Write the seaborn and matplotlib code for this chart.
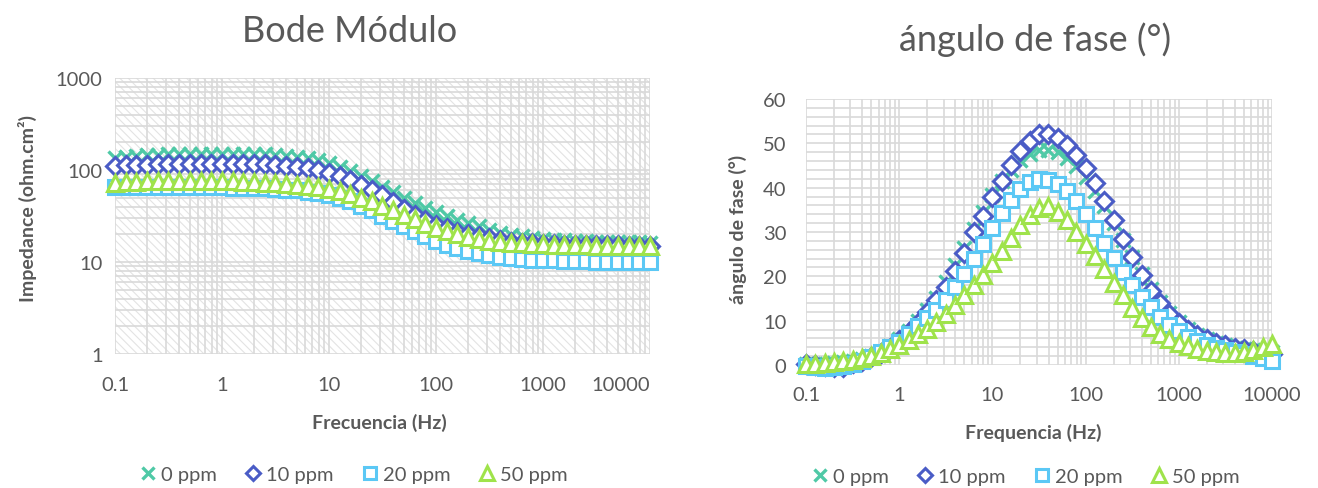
import numpy as np
import pandas as pd
import matplotlib
matplotlib.use("Agg")
import matplotlib.pyplot as plt
import seaborn as sns
from matplotlib.patches import Rectangle
from matplotlib.ticker import FixedLocator, FixedFormatter, LogLocator, MultipleLocator, NullFormatter

# ---------------- data ----------------
freq = [0.1, 0.1259, 0.1585, 0.1995, 0.2512, 0.3162, 0.3981, 0.5012, 0.631, 0.7943,
        1.0, 1.259, 1.585, 1.995, 2.512, 3.162, 3.981, 5.012, 6.31, 7.943,
        10.0, 12.59, 15.85, 19.95, 25.12, 31.62, 39.81, 50.12, 63.1, 79.43,
        100.0, 125.9, 158.5, 199.5, 251.2, 316.2, 398.1, 501.2, 631.0, 794.3,
        1000.0, 1259, 1585, 1995, 2512, 3162, 3981, 5012, 6310, 7943, 10000]

z_0ppm = [135, 139, 142, 144, 146, 148, 149, 150, 151, 151,
          151, 151, 150, 149, 148, 146, 143, 139, 134, 127,
          119, 109, 98, 87, 76, 66, 57, 50, 44, 39,
          35, 31.5, 28.5, 26.3, 24.5, 22, 20.8, 19.8, 19.0, 18.4,
          17.9, 17.5, 17.2, 17.0, 16.8, 16.6, 16.5, 16.4, 16.3, 16.3, 16.2]
z_10ppm = [110, 112, 113, 114, 115, 116, 116, 117, 117, 117,
           117, 117, 116, 116, 115, 113, 111, 108, 104, 99,
           93, 86, 78, 69, 61, 53, 45, 38, 32.5, 28.5,
           25.5, 23.2, 21.4, 20.0, 19.0, 18.2, 17.2, 16.6, 16.2, 15.9,
           15.7, 15.5, 15.4, 15.3, 15.3, 15.2, 15.2, 15.2, 15.1, 15.1, 15.1]
z_20ppm = [66, 66, 66, 66, 66, 66, 65.5, 65.5, 65, 65,
           65, 64.5, 64, 63.5, 63, 62, 61, 60, 58, 56,
           53, 49.5, 45.5, 41, 36.5, 32, 28, 24.5, 21.5, 19,
           17, 15.4, 14.1, 13.1, 12.4, 11.8, 11.4, 11.1, 10.8, 10.6,
           10.5, 10.4, 10.3, 10.2, 10.2, 10.1, 10.1, 10.1, 10.0, 10.0, 10.0]
z_50ppm = [73, 74, 74, 75, 75, 75, 75, 75, 75, 75,
           75, 75, 74.5, 74, 73, 72, 71, 69.5, 67.5, 65,
           62, 58.5, 54.5, 50, 45.5, 41, 36.5, 32.5, 29, 26,
           23.5, 21.5, 20, 18.8, 17.8, 17.1, 16.6, 16.2, 15.9, 15.7,
           15.5, 15.4, 15.3, 15.2, 15.2, 15.1, 15.1, 15.1, 15.0, 15.0, 15.0]

ph_0ppm = [0.3, 0.3, 0.3, 0.4, 0.6, 0.9, 1.4, 2.1, 3.0, 4.2,
           5.8, 7.7, 9.9, 12.4, 15.2, 18.8, 22.5, 26.5, 30.6, 34.6,
           38.3, 41.5, 44.0, 46.2, 47.7, 48.5, 48.6, 48.0, 46.7, 44.8,
           42.3, 39.3, 35.9, 32.1, 28.2, 24.3, 20.5, 17.1, 14.2, 11.7,
           9.7, 8.1, 6.8, 5.8, 5.0, 4.4, 3.9, 3.6, 3.3, 3.1, 3.0]
ph_10ppm = [0.2, 0.0, -0.3, -0.5, -0.4, 0.4, 1.0, 1.8, 2.8, 3.9,
            5.6, 7.4, 9.5, 11.9, 14.6, 17.5, 21.3, 25.2, 30.0, 33.7,
            37.9, 41.6, 45.2, 48.3, 50.6, 52.0, 52.2, 51.2, 49.6, 47.3,
            44.4, 41.0, 37.1, 32.7, 28.5, 24.3, 20.3, 16.8, 13.9, 11.5,
            9.5, 8.0, 6.7, 5.8, 5.0, 4.4, 3.9, 3.5, 3.1, 2.8, 2.5]
ph_20ppm = [-0.3, -0.5, -0.6, -0.5, -0.2, 0.3, 1.0, 1.9, 2.9, 4.0,
            5.3, 6.9, 8.7, 10.5, 12.4, 14.6, 17.5, 20.6, 23.9, 27.4,
            30.9, 34.3, 37.3, 39.6, 41.2, 41.9, 41.8, 40.9, 39.3, 37.0,
            34.0, 30.8, 27.5, 24.2, 21.0, 18.0, 15.4, 13.0, 10.9, 9.1,
            7.6, 6.4, 5.4, 4.6, 3.9, 3.4, 2.9, 2.5, 2.0, 1.5, 1.0]
ph_50ppm = [0.2, 0.3, 0.4, 0.6, 0.8, 1.1, 1.5, 2.0, 2.7, 3.6,
            4.6, 5.7, 6.9, 8.2, 9.7, 11.5, 13.5, 15.7, 18.0, 20.4,
            23.0, 25.8, 28.7, 31.5, 33.9, 35.5, 35.9, 34.6, 32.6, 30.1,
            27.3, 24.5, 21.6, 18.6, 15.7, 12.9, 10.5, 8.6, 7.0, 5.9,
            5.0, 4.2, 3.6, 3.2, 2.9, 2.8, 2.8, 3.0, 3.4, 4.0, 4.7]

series_labels = ["0 ppm", "10 ppm", "20 ppm", "50 ppm"]
x_ticks = [0.1, 1, 10, 100, 1000, 10000]
x_ticklabels = ["0.1", "1", "10", "100", "1000", "10000"]
z_ticks = [1, 10, 100, 1000]
z_ticklabels = ["1", "10", "100", "1000"]
ph_ticks = [0, 10, 20, 30, 40, 50, 60]

# ---------------- styling ----------------
colors = ["#4FC9A6", "#4A5CC6", "#5BC8F5", "#9FE34B"]
markers = ["x", "D", "s", "^"]
msizes = [10.5, 8.8, 10.5, 12]
TXT = "#595959"
GRID = "#d9d9d9"

sns.set_theme(style="white")
plt.rcParams["font.family"] = ["Lato", "DejaVu Sans"]
plt.rcParams["hatch.linewidth"] = 0.8

W, H = 1318, 489
fig = plt.figure(figsize=(W / 100, H / 100), dpi=100)
axL = fig.add_axes([115 / W, 1 - 355 / H, 535 / W, 276 / H])
axR = fig.add_axes([806 / W, 1 - 366 / H, 466 / W, 266 / H])

mod_df = pd.DataFrame({
    "freq": freq * 4,
    "value": z_0ppm + z_10ppm + z_20ppm + z_50ppm,
    "series": sum([[s] * len(freq) for s in series_labels], []),
})
ph_df = pd.DataFrame({
    "freq": freq * 4,
    "value": ph_0ppm + ph_10ppm + ph_20ppm + ph_50ppm,
    "series": sum([[s] * len(freq) for s in series_labels], []),
})


def draw(ax, df):
    for lab, c, m, ms in zip(series_labels, colors, markers, msizes):
        sub = df[df["series"] == lab]
        kw = dict(marker=m, markersize=ms, linestyle="", color=c, clip_on=False)
        if m == "x":
            kw.update(markeredgecolor=c, markeredgewidth=2.4)
        else:
            kw.update(markerfacecolor="white", markeredgecolor=c, markeredgewidth=2.2)
        sns.lineplot(data=sub, x="freq", y="value", ax=ax, estimator=None,
                     errorbar=None, sort=False, label=lab, legend=False, **kw)


draw(axL, mod_df)
draw(axR, ph_df)

for ax in (axL, axR):
    ax.set_xscale("log")
    ax.set_xlim(0.1, 10000)
    ax.xaxis.set_major_locator(FixedLocator(x_ticks))
    ax.xaxis.set_major_formatter(FixedFormatter(x_ticklabels))
    ax.xaxis.set_minor_locator(LogLocator(base=10, subs=np.arange(2, 10), numticks=30))
    ax.xaxis.set_minor_formatter(NullFormatter())
    ax.grid(True, which="major", color=GRID, lw=1.2)
    ax.grid(True, which="minor", color=GRID, lw=1.2)
    ax.set_axisbelow(True)
    for s in ax.spines.values():
        s.set_visible(False)
    ax.tick_params(which="both", length=0, labelsize=14.5, labelcolor=TXT)
    ax.set_facecolor("white")

# left: log-log modulus
axL.set_yscale("log")
axL.set_ylim(1, 1000)
axL.yaxis.set_major_locator(FixedLocator(z_ticks))
axL.yaxis.set_major_formatter(FixedFormatter(z_ticklabels))
axL.yaxis.set_minor_locator(LogLocator(base=10, subs=np.arange(2, 10), numticks=30))
axL.yaxis.set_minor_formatter(NullFormatter())
axL.grid(True, which="minor", axis="y", color=GRID, lw=1.2)
axL.tick_params(axis="x", pad=16)
axL.tick_params(axis="y", pad=9)
axL.add_patch(Rectangle((0, 0), 1, 1, transform=axL.transAxes, fill=False,
                        hatch="\\\\\\\\", edgecolor="#e3e3e3", lw=0, zorder=0.1))
# the last x label is pulled inside the chart area, as in the original
fig.canvas.draw()
axL.get_xticklabels()[-1].set_horizontalalignment("right")

# right: phase
axR.set_ylim(0, 60)
axR.yaxis.set_major_locator(FixedLocator(ph_ticks))
axR.yaxis.set_minor_locator(MultipleLocator(2))
axR.tick_params(axis="x", pad=15)
axR.tick_params(axis="y", pad=14)

# labels
axL.set_xlabel("Frecuencia (Hz)", fontsize=14, fontweight="bold", color=TXT, va="center")
axL.xaxis.set_label_coords(0.495, -0.246)
axL.set_ylabel("Impedance (ohm.cm²)", fontsize=14, fontweight="bold", color=TXT, va="center")
axL.yaxis.set_label_coords(-0.163, 0.53)
axR.set_xlabel("Frequencia (Hz)", fontsize=14, fontweight="bold", color=TXT, va="center")
axR.xaxis.set_label_coords(0.487, -0.252)
axR.set_ylabel("ángulo de fase (°)", fontsize=14, fontweight="bold", color=TXT, va="center")
axR.yaxis.set_label_coords(-0.146, 0.515)

fig.text(350 / W, 1 - 31 / H, "Bode Módulo", ha="center", va="center", fontsize=26, color=TXT)
fig.text(1035 / W, 1 - 40 / H, "ángulo de fase (°)", ha="center", va="center", fontsize=26, color=TXT)

# legends
for ax, cx, cy in ((axL, 353, 475), (axR, 1025, 477)):
    h, l = ax.get_legend_handles_labels()
    fig.legend(h, l, loc="center", bbox_to_anchor=(cx / W, 1 - cy / H), ncol=4,
               frameon=False, fontsize=14.5, labelcolor=TXT, handletextpad=0.15,
               columnspacing=1.3, handlelength=1.0, markerscale=0.8)

fig.savefig("out.png", dpi=100)
